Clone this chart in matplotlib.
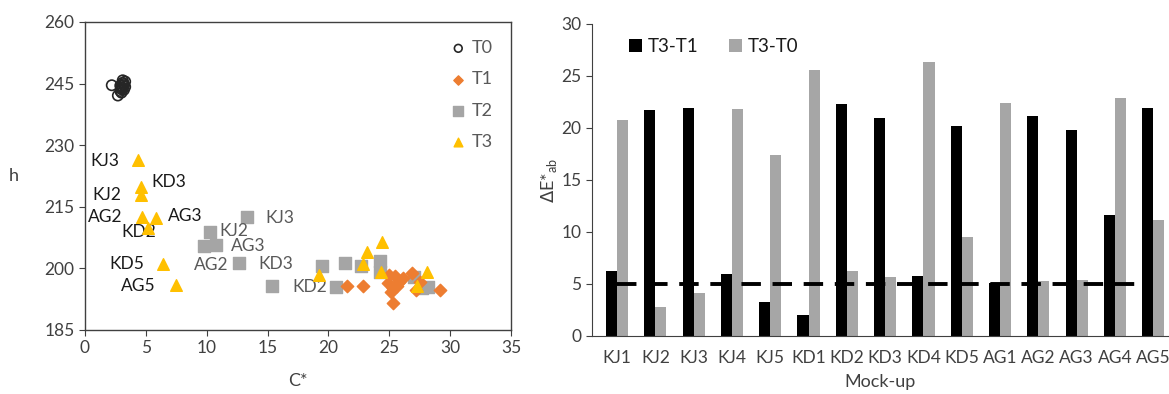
import matplotlib
matplotlib.use("Agg")
import matplotlib.pyplot as plt
import numpy as np

plt.rcParams['font.family'] = ['Lato', 'DejaVu Sans']

# ---------------- Left panel data (C*, h) ----------------
t0_c = [2.2, 2.7, 2.9, 3.0, 3.1, 3.2, 3.3, 3.0, 3.2, 3.1, 2.9, 3.3, 3.1, 3.0, 3.2]
t0_h = [244.6, 242.1, 243.2, 244.0, 245.2, 244.6, 245.5, 243.6, 244.9, 243.9, 244.5, 244.2, 245.8, 242.8, 243.5]

t1_c = [21.5, 22.8, 25.3, 25.0, 25.5, 25.8, 24.9, 25.3, 25.1, 26.1, 26.9, 27.5, 27.2, 29.2, 25.6]
t1_h = [195.7, 195.7, 191.5, 198.4, 198.2, 196.8, 196.4, 195.2, 194.3, 197.6, 198.8, 196.8, 194.7, 194.7, 195.8]

t2_c = [13.3, 10.25, 9.75, 10.74, 12.65, 15.4, 19.5, 20.6, 21.4, 22.7, 24.2, 24.2, 27.0, 27.7, 28.2]
t2_h = [212.6, 208.9, 205.5, 205.7, 201.4, 195.8, 200.6, 195.4, 201.2, 200.6, 201.8, 199.2, 198.0, 195.2, 195.4]

t3_c = [4.34, 4.56, 4.56, 4.65, 5.82, 5.19, 6.42, 7.51, 19.2, 23.2, 24.4, 22.8, 24.3, 28.1, 27.3]
t3_h = [226.4, 219.9, 217.9, 212.6, 212.2, 209.8, 201.0, 196.0, 198.4, 203.9, 206.4, 201.1, 199.1, 199.1, 195.8]

t3_labels = ["KJ3", "KD3", "KJ2", "AG2", "AG3", "KD2", "KD5", "AG5"]
t3_label_c = [1.64, 6.91, 1.83, 1.64, 8.20, 4.45, 3.47, 4.37]
t3_label_h = [226.2, 221.1, 217.9, 212.6, 212.8, 208.9, 201.1, 195.8]

t2_labels = ["KJ2", "KJ3", "AG3", "AG2", "KD3", "KD2"]
t2_label_c = [12.2, 15.98, 13.39, 10.38, 15.66, 18.44]
t2_label_h = [209.0, 212.2, 205.5, 200.8, 201.1, 195.5]

# ---------------- Right panel data ----------------
mockups = ["KJ1", "KJ2", "KJ3", "KJ4", "KJ5", "KD1", "KD2", "KD3", "KD4", "KD5",
           "AG1", "AG2", "AG3", "AG4", "AG5"]
de_t3_t1 = [6.25, 21.7, 21.9, 6.0, 3.3, 2.0, 22.3, 21.0, 5.77, 20.2, 5.13, 21.2, 19.8, 11.6, 21.9]
de_t3_t0 = [20.8, 2.75, 4.17, 21.8, 17.4, 25.6, 6.25, 5.64, 26.3, 9.55, 22.4, 5.29, 5.38, 22.9, 11.15]
threshold = [5] * len(mockups)

W, H = 1169, 394
fig = plt.figure(figsize=(W / 100, H / 100), dpi=100)

def ax_rect(l, t, r, b):
    return [l / W, 1 - b / H, (r - l) / W, (b - t) / H]

TICK_FS = 12.5
TXT_FS = 12.5

# ---------------- Left panel ----------------
ax1 = fig.add_axes(ax_rect(85, 22, 511, 330))
ax1.scatter(t0_c, t0_h, s=55, facecolors='none', edgecolors='#262626', linewidths=1.2, label='T0', zorder=3)
ax1.scatter(t1_c, t1_h, s=40, marker='D', color='#ED7D31', label='T1', zorder=4)
ax1.scatter(t2_c, t2_h, s=75, marker='s', color='#A5A5A5', label='T2', zorder=3)
ax1.scatter(t3_c, t3_h, s=70, marker='^', color='#FFC000', label='T3', zorder=5)

for lab, x, y in zip(t3_labels, t3_label_c, t3_label_h):
    ax1.text(x, y, lab, ha='center', va='center', fontsize=TXT_FS, color='#1a1a1a')
for lab, x, y in zip(t2_labels, t2_label_c, t2_label_h):
    ax1.text(x, y, lab, ha='center', va='center', fontsize=TXT_FS, color='#595959')

ax1.set_xlim(0, 35)
ax1.set_ylim(185, 260)
ax1.set_xticks(np.arange(0, 36, 5))
ax1.set_yticks(np.arange(185, 261, 15))
ax1.tick_params(labelsize=TICK_FS, colors='#404040', length=4, direction='out')
for sp in ax1.spines.values():
    sp.set_color('#404040')
    sp.set_linewidth(1.0)
ax1.set_xlabel('C*', fontsize=13, color='#404040', labelpad=12)
ax1.set_ylabel('h', fontsize=13, color='#404040', rotation=0, labelpad=22, va='center')

leg1 = ax1.legend(loc='upper right', frameon=False, fontsize=13, handletextpad=0.15,
                  handlelength=1.2, labelspacing=0.85, markerscale=0.75,
                  borderaxespad=0.6, bbox_to_anchor=(1.0, 1.0))
for t in leg1.get_texts():
    t.set_color('#595959')

# ---------------- Right panel ----------------
ax2 = fig.add_axes(ax_rect(592, 24, 1169, 336))
x = np.arange(len(mockups))
bw = 0.29
ax2.bar(x - bw / 2, de_t3_t1, width=bw, color='black', label='T3-T1', zorder=2)
ax2.bar(x + bw / 2, de_t3_t0, width=bw, color='#A6A6A6', label='T3-T0', zorder=2)
ax2.plot(x, threshold, color='black', linestyle=(0, (5, 3)), linewidth=2.8, zorder=3)

ax2.set_xlim(-0.654, 14.41)
ax2.set_ylim(0, 30)
ax2.set_yticks(np.arange(0, 31, 5))
ax2.set_xticks(x)
ax2.set_xticklabels(mockups)
ax2.tick_params(axis='y', labelsize=TICK_FS, colors='#404040', length=4, direction='out')
ax2.tick_params(axis='x', labelsize=TICK_FS, colors='#404040', length=0, pad=10)
ax2.spines['top'].set_visible(False)
ax2.spines['right'].set_visible(False)
ax2.spines['left'].set_color('#404040')
ax2.spines['bottom'].set_color('#404040')
ax2.set_xlabel('Mock-up', fontsize=13, color='#404040', labelpad=6)
ax2.set_ylabel(r'$\Delta$E*$_{\mathregular{ab}}$', fontsize=13, color='#404040', labelpad=2)

leg2 = ax2.legend(loc='upper left', ncol=2, frameon=False, fontsize=13.5,
                  handlelength=0.7, handleheight=0.7, handletextpad=0.3,
                  columnspacing=1.6, bbox_to_anchor=(0.035, 1.01))
for t in leg2.get_texts():
    t.set_color('#1a1a1a')

fig.savefig('out.png', dpi=100)
